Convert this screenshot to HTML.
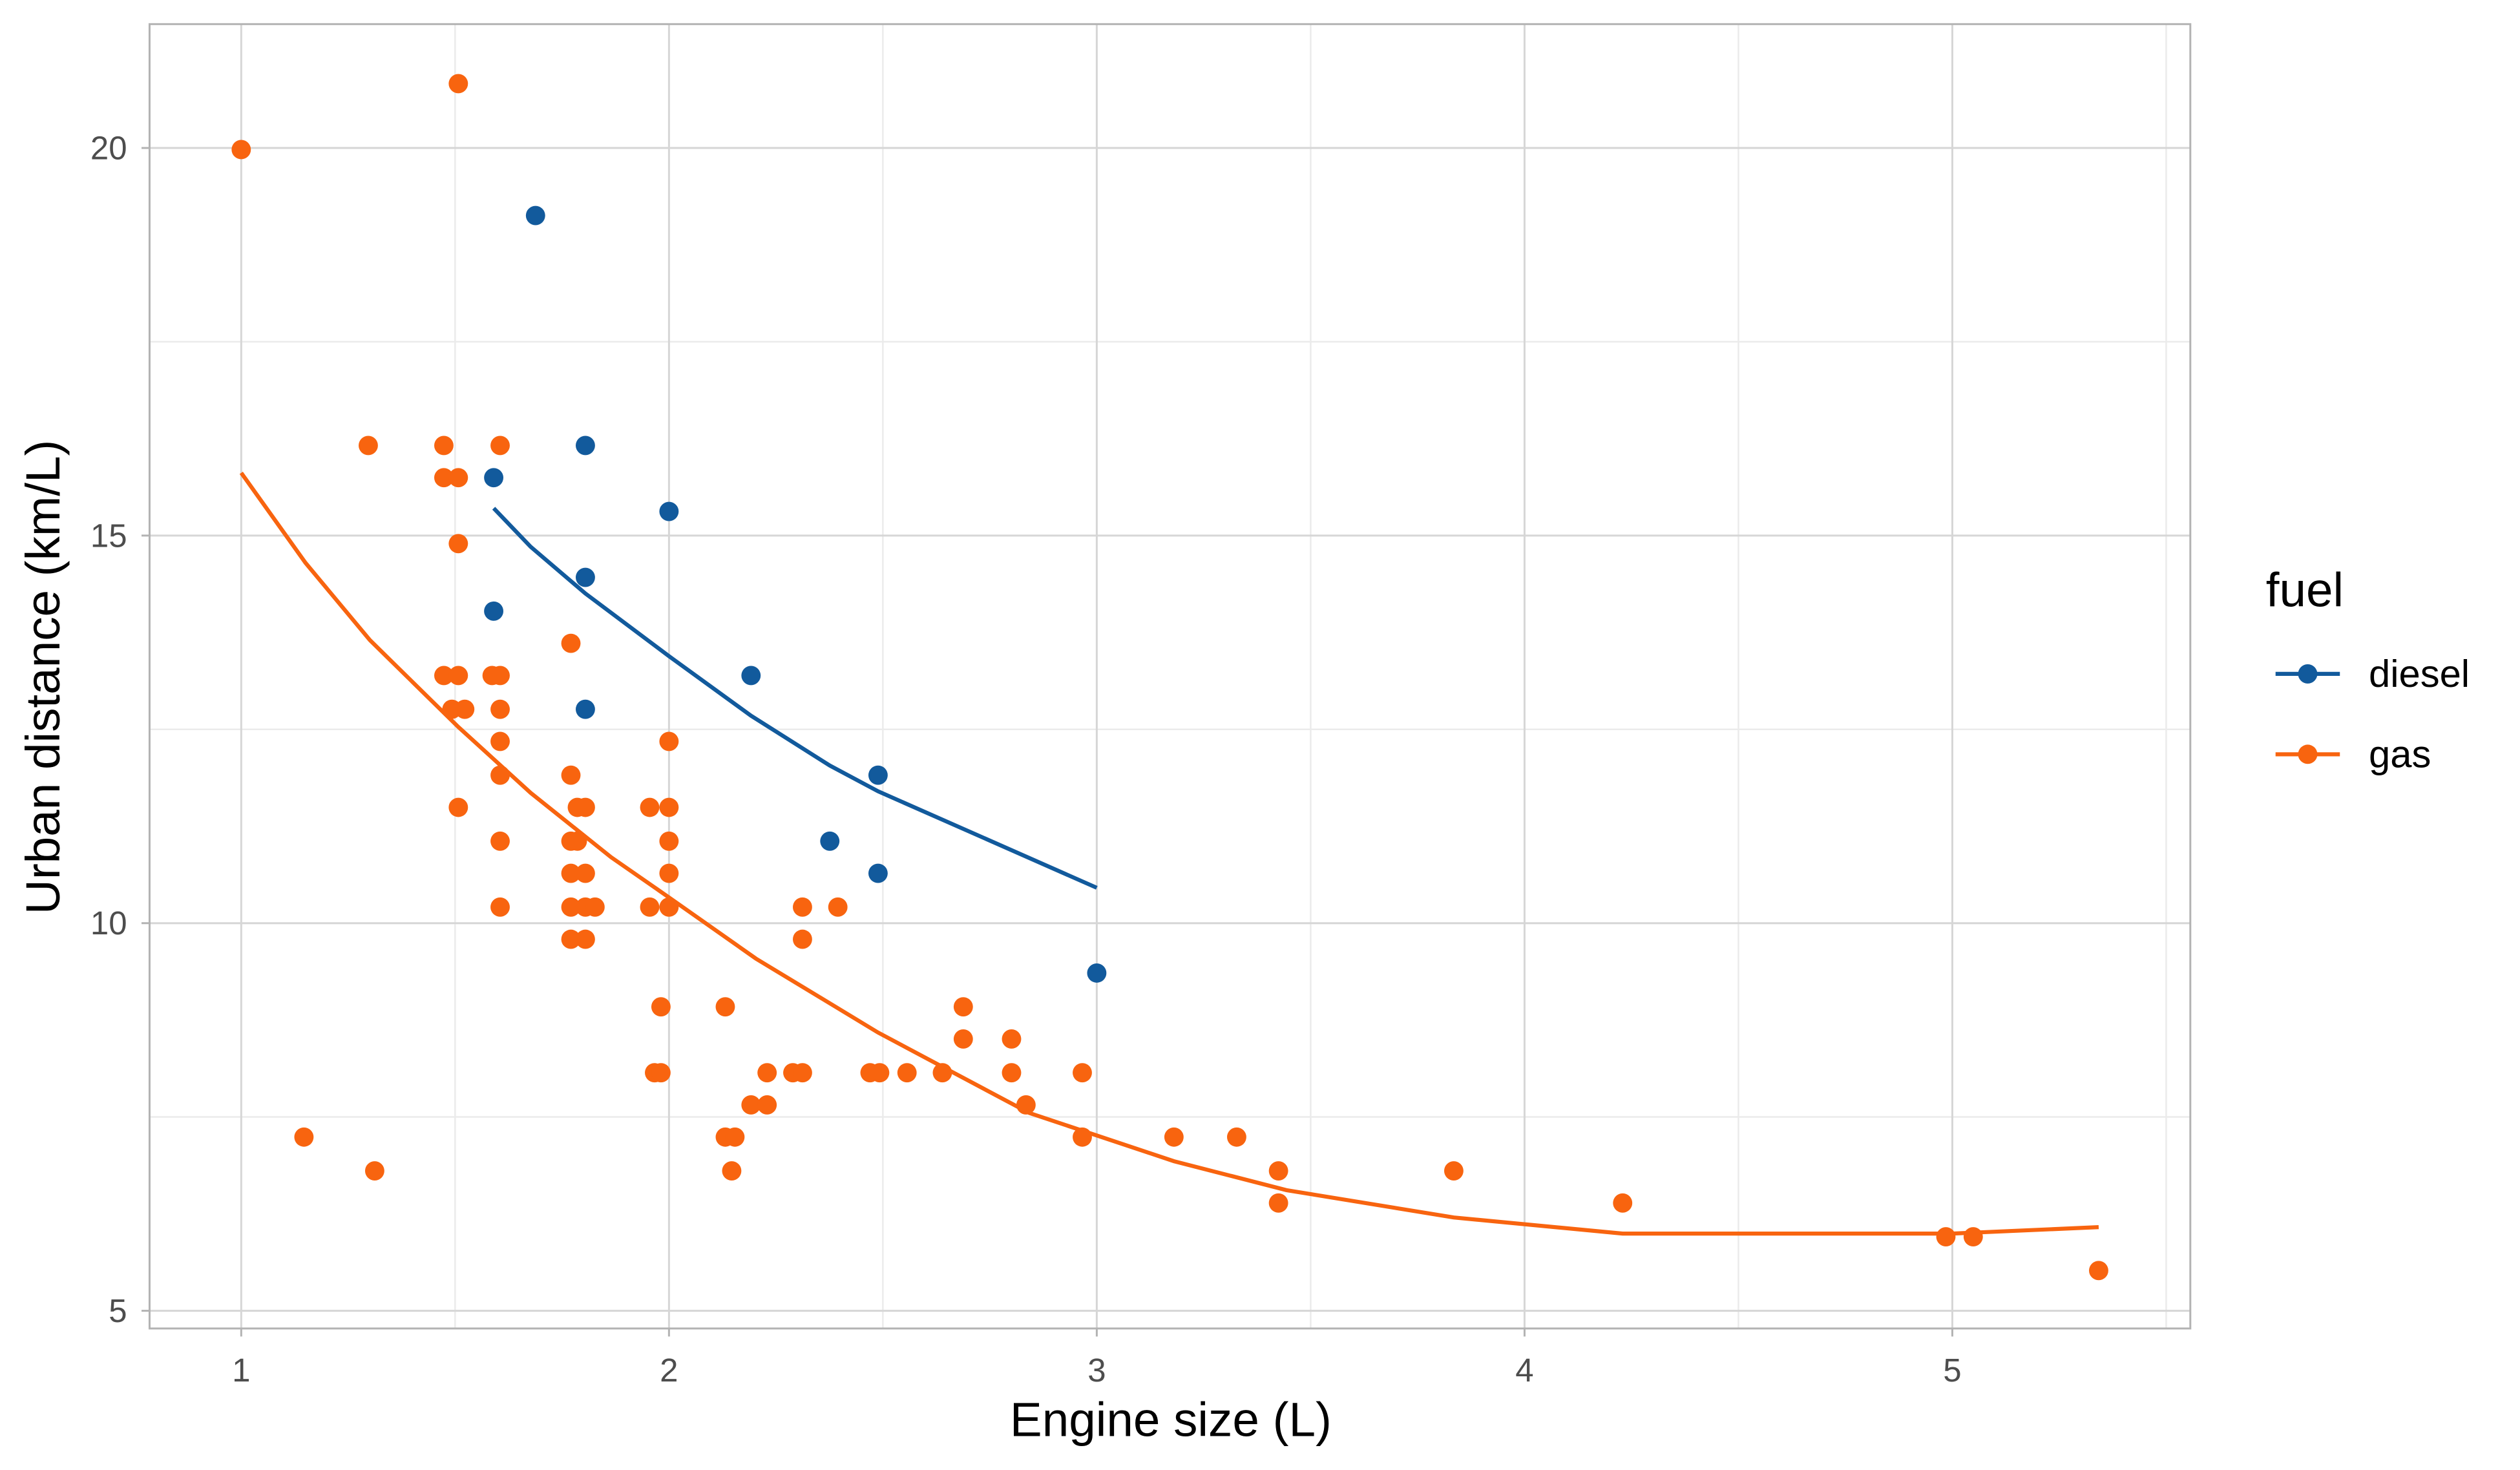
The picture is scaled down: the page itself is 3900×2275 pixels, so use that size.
<!DOCTYPE html>
<html><head><meta charset="utf-8"><style>html,body{margin:0;padding:0;background:#fff}svg{display:block}</style></head><body>
<svg width="3900" height="2275" viewBox="0 0 1567 914" preserveAspectRatio="none" xmlns="http://www.w3.org/2000/svg" font-family="Liberation Sans, Arial, sans-serif">
<rect width="1567" height="914" fill="#fff"/>
<g stroke="#ebebeb" stroke-width="1">
<line x1="283" y1="15" x2="283" y2="826"/><line x1="549" y1="15" x2="549" y2="826"/><line x1="815" y1="15" x2="815" y2="826"/><line x1="1081" y1="15" x2="1081" y2="826"/><line x1="1347" y1="15" x2="1347" y2="826"/>
<line x1="93" y1="212.5" x2="1362" y2="212.5"/><line x1="93" y1="453.5" x2="1362" y2="453.5"/><line x1="93" y1="694.5" x2="1362" y2="694.5"/>
</g>
<g stroke="#d6d6d6" stroke-width="1.2">
<line x1="150" y1="15" x2="150" y2="826"/><line x1="416" y1="15" x2="416" y2="826"/><line x1="682" y1="15" x2="682" y2="826"/><line x1="948" y1="15" x2="948" y2="826"/><line x1="1214" y1="15" x2="1214" y2="826"/>
<line x1="93" y1="92" x2="1362" y2="92"/><line x1="93" y1="333" x2="1362" y2="333"/><line x1="93" y1="574" x2="1362" y2="574"/><line x1="93" y1="815" x2="1362" y2="815"/>
</g>
<rect x="93" y="15" width="1269" height="811" fill="none" stroke="#b3b3b3" stroke-width="1.2"/>
<g stroke="#b3b3b3" stroke-width="1.2">
<line x1="150" y1="826" x2="150" y2="831"/><line x1="416" y1="826" x2="416" y2="831"/><line x1="682" y1="826" x2="682" y2="831"/><line x1="948" y1="826" x2="948" y2="831"/><line x1="1214" y1="826" x2="1214" y2="831"/>
<line x1="88" y1="92" x2="93" y2="92"/><line x1="88" y1="333" x2="93" y2="333"/><line x1="88" y1="574" x2="93" y2="574"/><line x1="88" y1="815" x2="93" y2="815"/>
</g>
<g fill="#4d4d4d" font-size="20.5" text-anchor="middle">
<text x="150" y="859">1</text><text x="416" y="859">2</text><text x="682" y="859">3</text><text x="948" y="859">4</text><text x="1214" y="859">5</text>
</g>
<g fill="#4d4d4d" font-size="20.5" text-anchor="end">
<text x="79" y="99">20</text><text x="79" y="340">15</text><text x="79" y="581">10</text><text x="79" y="822">5</text>
</g>
<text x="728" y="893" font-size="30" text-anchor="middle" fill="#000">Engine size (L)</text>
<text transform="translate(37,421) rotate(-90)" font-size="30" text-anchor="middle" fill="#000">Urban distance (km/L)</text>
<polyline fill="none" stroke="#F8640F" stroke-width="2.5" points="150,294 190,350 230,398 285,452 330,493 380,533 416,558 470,596 546,642 640,692 730,722 800,740 904,757 1009,767 1214,767 1305,763"/>
<polyline fill="none" stroke="#125A9C" stroke-width="2.5" points="307,316 330,340 364,369 416,408 467,445 516,476 546,492 682,552"/>
<g fill="#F8640F">
<circle cx="150" cy="93" r="6"/><circle cx="285" cy="52" r="6"/><circle cx="229" cy="277" r="6"/><circle cx="276" cy="277" r="6"/><circle cx="311" cy="277" r="6"/><circle cx="276" cy="297" r="6"/><circle cx="285" cy="297" r="6"/><circle cx="285" cy="338" r="6"/><circle cx="276" cy="420" r="6"/><circle cx="285" cy="420" r="6"/><circle cx="311" cy="420" r="6"/><circle cx="306" cy="420" r="6"/><circle cx="281" cy="441" r="6"/><circle cx="289" cy="441" r="6"/><circle cx="311" cy="441" r="6"/><circle cx="311" cy="461" r="6"/><circle cx="311" cy="482" r="6"/><circle cx="285" cy="502" r="6"/><circle cx="311" cy="523" r="6"/><circle cx="311" cy="564" r="6"/><circle cx="355" cy="400" r="6"/><circle cx="355" cy="482" r="6"/><circle cx="355" cy="523" r="6"/><circle cx="359" cy="502" r="6"/><circle cx="364" cy="502" r="6"/><circle cx="355" cy="543" r="6"/><circle cx="364" cy="543" r="6"/><circle cx="355" cy="564" r="6"/><circle cx="364" cy="564" r="6"/><circle cx="370" cy="564" r="6"/><circle cx="355" cy="584" r="6"/><circle cx="364" cy="584" r="6"/><circle cx="359" cy="523" r="6"/><circle cx="404" cy="502" r="6"/><circle cx="416" cy="502" r="6"/><circle cx="416" cy="461" r="6"/><circle cx="416" cy="523" r="6"/><circle cx="416" cy="543" r="6"/><circle cx="404" cy="564" r="6"/><circle cx="416" cy="564" r="6"/><circle cx="411" cy="626" r="6"/><circle cx="407" cy="667" r="6"/><circle cx="411" cy="667" r="6"/><circle cx="451" cy="626" r="6"/><circle cx="451" cy="707" r="6"/><circle cx="457" cy="707" r="6"/><circle cx="455" cy="728" r="6"/><circle cx="467" cy="687" r="6"/><circle cx="477" cy="687" r="6"/><circle cx="477" cy="667" r="6"/><circle cx="493" cy="667" r="6"/><circle cx="499" cy="667" r="6"/><circle cx="499" cy="564" r="6"/><circle cx="499" cy="584" r="6"/><circle cx="521" cy="564" r="6"/><circle cx="541" cy="667" r="6"/><circle cx="547" cy="667" r="6"/><circle cx="564" cy="667" r="6"/><circle cx="586" cy="667" r="6"/><circle cx="599" cy="626" r="6"/><circle cx="599" cy="646" r="6"/><circle cx="629" cy="646" r="6"/><circle cx="629" cy="667" r="6"/><circle cx="638" cy="687" r="6"/><circle cx="673" cy="667" r="6"/><circle cx="673" cy="707" r="6"/><circle cx="189" cy="707" r="6"/><circle cx="233" cy="728" r="6"/><circle cx="730" cy="707" r="6"/><circle cx="769" cy="707" r="6"/><circle cx="795" cy="728" r="6"/><circle cx="795" cy="748" r="6"/><circle cx="904" cy="728" r="6"/><circle cx="1009" cy="748" r="6"/><circle cx="1210" cy="769" r="6"/><circle cx="1227" cy="769" r="6"/><circle cx="1305" cy="790" r="6"/>
</g>
<g fill="#125A9C">
<circle cx="333" cy="134" r="6"/><circle cx="307" cy="297" r="6"/><circle cx="364" cy="277" r="6"/><circle cx="416" cy="318" r="6"/><circle cx="307" cy="380" r="6"/><circle cx="364" cy="359" r="6"/><circle cx="364" cy="441" r="6"/><circle cx="467" cy="420" r="6"/><circle cx="546" cy="482" r="6"/><circle cx="516" cy="523" r="6"/><circle cx="546" cy="543" r="6"/><circle cx="682" cy="605" r="6"/>
</g>
<text x="1409" y="377" font-size="30" fill="#000">fuel</text>
<line x1="1415" y1="419" x2="1455" y2="419" stroke="#125A9C" stroke-width="2.5"/><circle cx="1435" cy="419" r="6" fill="#125A9C"/>
<line x1="1415" y1="469" x2="1455" y2="469" stroke="#F8640F" stroke-width="2.5"/><circle cx="1435" cy="469" r="6" fill="#F8640F"/>
<text x="1473" y="427" font-size="24" fill="#000">diesel</text>
<text x="1473" y="477" font-size="24" fill="#000">gas</text>
</svg>
</body></html>
